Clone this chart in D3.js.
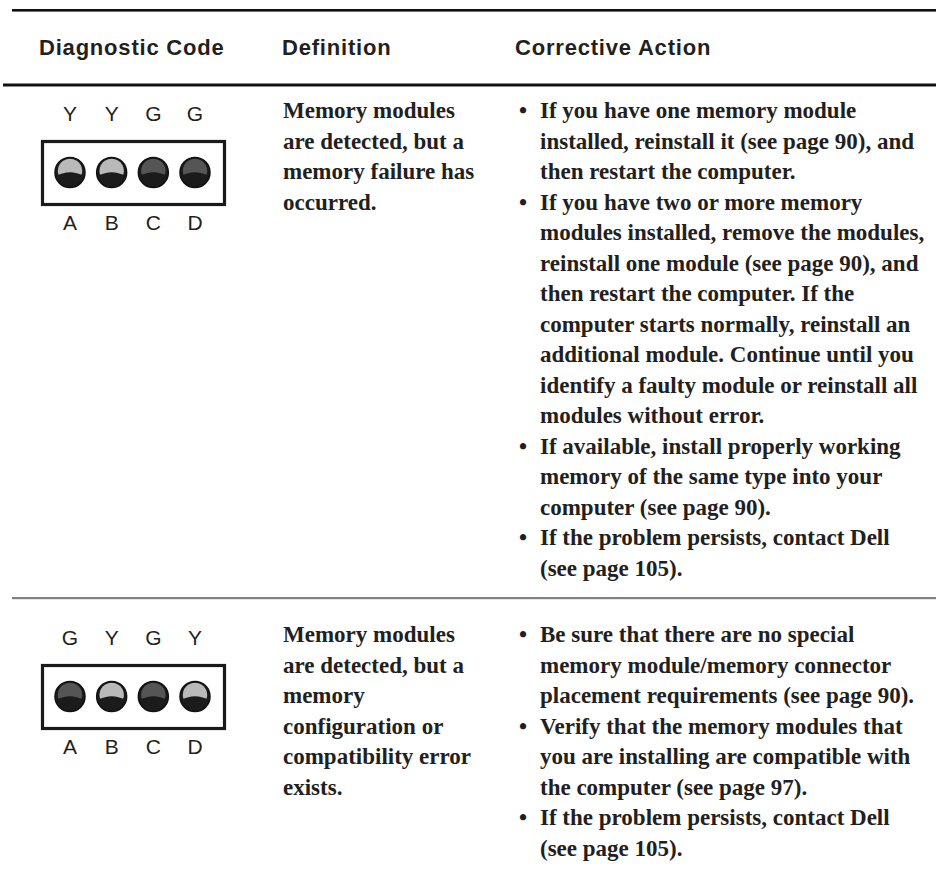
<!DOCTYPE html>
<html><head><meta charset="utf-8">
<script src="https://cdn.jsdelivr.net/npm/d3@7"></script>
<style>
html,body{margin:0;padding:0;background:#fff;}
svg{display:block;}
</style></head>
<body>
<svg id="chart" width="936" height="876"></svg>
<script>
// ---- data ----
const headers = ["Diagnostic Code", "Definition", "Corrective Action"];
const ledLetters = ["A", "B", "C", "D"];
const row1Codes = ["Y", "Y", "G", "G"];
const row2Codes = ["G", "Y", "G", "Y"];
const row1Definition = ["Memory modules", "are detected, but a", "memory failure has", "occurred."];
const row2Definition = ["Memory modules", "are detected, but a", "memory", "configuration or", "compatibility error", "exists."];
const row1Actions = [
  ["If you have one memory module", "installed, reinstall it (see page 90), and", "then restart the computer."],
  ["If you have two or more memory", "modules installed, remove the modules,", "reinstall one module (see page 90), and", "then restart the computer. If the", "computer starts normally, reinstall an", "additional module. Continue until you", "identify a faulty module or reinstall all", "modules without error."],
  ["If available, install properly working", "memory of the same type into your", "computer (see page 90)."],
  ["If the problem persists, contact Dell", "(see page 105)."]
];
const row2Actions = [
  ["Be sure that there are no special", "memory module/memory connector", "placement requirements (see page 90)."],
  ["Verify that the memory modules that", "you are installing are compatible with", "the computer (see page 97)."],
  ["If the problem persists, contact Dell", "(see page 105)."]
];
const rows = [
  {codes: row1Codes, definition: row1Definition, actions: row1Actions},
  {codes: row2Codes, definition: row2Definition, actions: row2Actions}
];

// ---- layout ----
const svg = d3.select("#chart");
const ink = "#231f20";
const serif = "'Liberation Serif', 'Times New Roman', serif";
const headFont = "'Liberation Sans', sans-serif";
const ledFont = "'Liberation Sans', 'DejaVu Sans', sans-serif";
const bodySize = 23;

const colX = d3.scaleOrdinal().domain(headers).range([39, 282, 515]);
const rowTop = d3.scaleOrdinal().domain([0, 1]).range([113, 637]);
const lineY = d3.scaleLinear().domain([0, 1]).range([0, 30.5]);
const ledX = d3.scalePoint().domain(ledLetters).range([70, 195]);
const ledFill = d3.scaleOrdinal().domain(["Y", "G"]).range(["#b9b9b9", "#555555"]);

svg.append("rect").attr("x", 12).attr("y", 9).attr("width", 924).attr("height", 2.6).attr("fill", "#111");
svg.append("rect").attr("x", 3).attr("y", 83.5).attr("width", 933).attr("height", 3).attr("fill", "#111");
svg.append("rect").attr("x", 12).attr("y", 597).attr("width", 924).attr("height", 2.2).attr("fill", "#808080");

svg.selectAll("text.head").data(headers).join("text")
  .attr("class", "head")
  .attr("x", d => colX(d)).attr("y", 55)
  .attr("font-family", headFont).attr("font-weight", "bold").attr("font-size", 22)
  .attr("letter-spacing", 0.8)
  .attr("fill", ink).text(d => d);

rows.forEach((row, ri) => {
  const top = rowTop(ri);
  const g = svg.append("g");
  g.selectAll("text.code").data(row.codes).join("text")
    .attr("x", (d, i) => ledX(ledLetters[i])).attr("y", top + 7.5)
    .attr("text-anchor", "middle")
    .attr("font-family", ledFont).attr("font-size", 21).attr("fill", ink)
    .text(d => d);
  g.append("rect").attr("x", 42.5).attr("y", top + 28.5).attr("width", 182).attr("height", 63)
    .attr("fill", "none").attr("stroke", "#1a1a1a").attr("stroke-width", 3.2);
  const cy = top + 59.5;
  const leds = g.selectAll("g.led").data(row.codes).join("g")
    .attr("transform", (d, i) => `translate(${ledX(ledLetters[i])},${cy})`);
  leds.append("circle").attr("r", 15).attr("fill", "#1b1b1b");
  leds.append("circle").attr("r", 12.2).attr("cy", -1.5).attr("fill", d => ledFill(d));
  leds.append("path")
    .attr("d", "M-13.5,3.5 Q0,-4 13.5,3.5 A14,14 0 0 1 -13.5,3.5 Z")
    .attr("fill", "#1b1b1b");
  leds.append("circle").attr("r", 15).attr("fill", "none").attr("stroke", "#111").attr("stroke-width", 1.5);
  g.selectAll("text.lbl").data(ledLetters).join("text")
    .attr("x", d => ledX(d)).attr("y", top + 116.5)
    .attr("text-anchor", "middle")
    .attr("font-family", ledFont).attr("font-size", 21).attr("fill", ink)
    .text(d => d);
  const base = top + 5;
  g.selectAll("text.def").data(row.definition).join("text")
    .attr("x", 283).attr("y", (d, i) => base + lineY(i))
    .attr("font-family", serif).attr("font-weight", "bold").attr("font-size", bodySize)
    .attr("fill", ink).text(d => d);
  let li = 0;
  row.actions.forEach(bullet => {
    g.append("text").attr("x", 523).attr("y", base + lineY(li))
      .attr("text-anchor", "middle")
      .attr("font-family", serif).attr("font-weight", "bold").attr("font-size", bodySize)
      .attr("fill", ink).text("\u2022");
    bullet.forEach(line => {
      g.append("text").attr("x", 540).attr("y", base + lineY(li))
        .attr("font-family", serif).attr("font-weight", "bold").attr("font-size", bodySize)
        .attr("fill", ink).text(line);
      li++;
    });
  });
});
</script>
</body></html>
